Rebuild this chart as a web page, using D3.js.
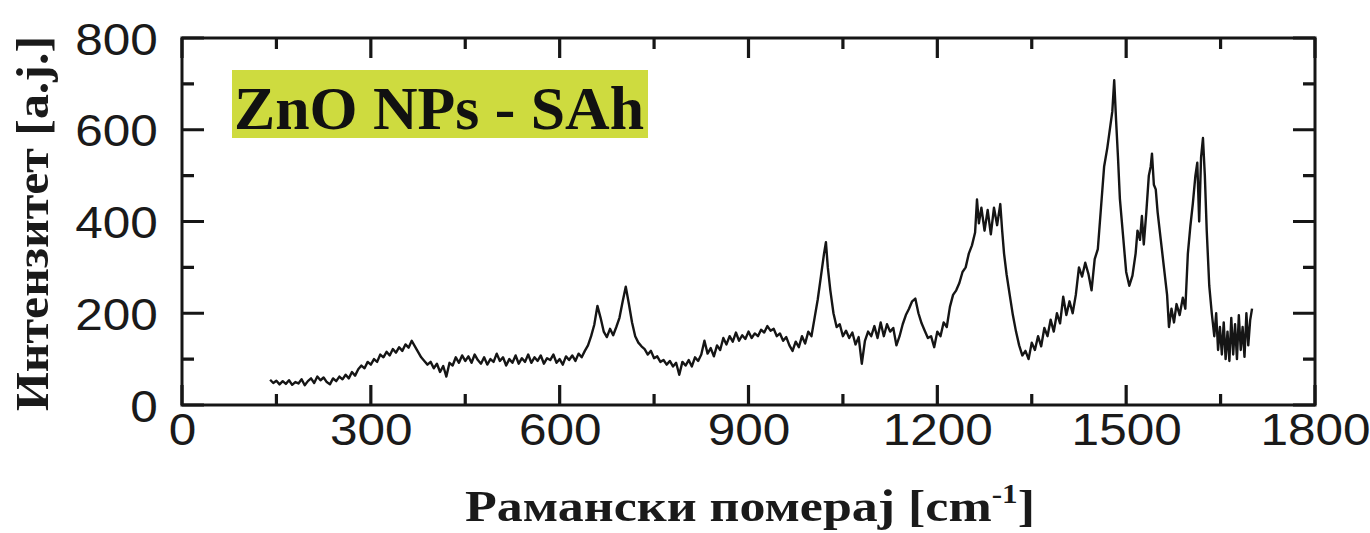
<!DOCTYPE html>
<html>
<head>
<meta charset="utf-8">
<script src="https://cdn.jsdelivr.net/npm/d3@7"></script>
<style>
html,body{margin:0;padding:0;background:#fff;}
svg{display:block;}
</style>
</head>
<body>
<svg id="chart" width="1370" height="533"></svg>
<script>
// ---- data ----
const xTicks = [0, 300, 600, 900, 1200, 1500, 1800];
const xMinorTicks = [150, 450, 750, 1050, 1350, 1650];
const yTicks = [0, 200, 400, 600, 800];
const yMinorTicks = [100, 300, 500, 700];
const xTitle = "Рамански померај [cm";
const xTitleSup = "-1";
const yTitle = "Интензитет [a.j.]";
const label = "ZnO NPs - SAh";

const shift = [
140,145,150,155,160,165,170,175,180,185,190,195,200,205,210,215,220,225,230,235,
240,245,250,255,260,265,270,275,280,285,290,295,300,305,310,315,320,325,330,335,
340,345,350,355,360,365,370,375,380,385,390,395,400,405,410,415,420,425,430,435,
440,445,450,455,460,465,470,475,480,485,490,495,500,505,510,515,520,525,530,535,
540,545,550,555,560,565,570,575,580,585,590,595,600,605,610,615,620,625,630,635,
640,645,650,655,660,665,670,675,680,685,690,695,700,705,710,715,720,725,730,735,
740,745,750,755,760,765,770,775,780,785,790,795,800,805,810,815,820,825,830,835,
840,845,850,855,860,865,870,875,880,885,890,895,900,905,910,915,920,925,930,935,
940,945,950,955,960,965,970,975,980,985,990,995,1000,1005,1010,1015,1020,1023,1026,1030,
1035,1040,1045,1050,1055,1060,1065,1070,1075,1080,1085,1090,1095,1100,1105,1110,1115,1120,1125,1130,
1135,1140,1145,1150,1155,1160,1165,1170,1175,1180,1185,1190,1195,1200,1205,1210,1215,1220,1225,1230,
1235,1240,1245,1250,1255,1260,1263,1266,1270,1275,1280,1285,1290,1295,1300,1303,1306,1310,1315,1320,
1325,1330,1335,1340,1345,1350,1355,1360,1365,1370,1375,1380,1385,1390,1395,1400,1405,1410,1415,1420,
1425,1430,1435,1440,1445,1450,1455,1460,1465,1470,1475,1478,1481,1484,1487,1490,1495,1500,1505,1510,
1515,1518,1522,1525,1528,1532,1536,1539,1541,1544,1547,1550,1555,1560,1565,1568,1572,1576,1580,1585,
1590,1594,1598,1602,1606,1610,1613,1616,1619,1622,1625,1628,1632,1636,1640,1643,1646,1649,1652,1655,
1658,1661,1664,1667,1670,1673,1676,1679,1682,1685,1688,1691,1694,1697,1700
];
const intensity = [
55,48,53,45,52,46,54,44,50,47,56,43,52,58,48,62,54,60,50,45,
58,52,62,56,66,58,72,64,78,86,80,94,88,100,94,110,104,116,108,122,
114,126,118,132,125,140,128,116,104,96,88,94,80,90,72,85,62,92,86,104,
92,108,96,106,92,110,98,90,104,88,100,94,112,96,104,86,100,92,108,90,
102,94,110,92,104,96,108,90,102,98,110,92,100,88,106,98,108,96,112,104,
118,130,150,175,216,190,160,148,166,152,170,190,225,258,220,180,150,136,128,122,
110,118,102,106,94,98,88,96,84,92,66,94,86,98,84,104,96,110,140,112,
124,106,130,120,146,132,150,138,158,140,152,144,160,146,156,150,164,158,172,162,
166,150,156,140,148,130,118,138,126,150,134,160,150,190,230,280,330,355,300,250,
200,170,176,150,162,146,158,132,148,90,140,160,150,172,146,180,150,176,160,168,
130,150,176,196,210,226,232,200,178,162,146,150,126,160,150,180,170,214,240,250,
266,290,300,330,348,376,448,396,430,380,425,372,430,392,438,380,330,285,240,196,
160,130,108,118,100,136,120,150,128,168,150,186,160,200,178,236,196,226,200,240,
300,280,310,286,250,318,340,430,520,560,610,640,708,620,540,450,370,290,260,282,
330,380,360,412,350,420,500,520,548,480,470,420,360,300,240,170,210,180,220,196,
234,210,330,390,440,500,528,400,540,582,500,380,260,200,150,200,120,170,110,180,
100,160,96,190,110,176,100,196,120,170,105,200,130,185,210
];

// ---- layout ----
const svg = d3.select("#chart");
const L = 182, R = 1315, T = 38, B = 405;
const xs = d3.scaleLinear().domain([0, 1800]).range([L, R]);
const ys = d3.scaleLinear().domain([0, 800]).range([B, T]);
const axisColor = "#161616";
const tickFont = "'Liberation Sans', Arial, sans-serif";
const serif = "'Liberation Serif', 'Times New Roman', serif";

// tick marks: one path built from the scales (inward on all four sides)
const tp = d3.path();
xTicks.forEach(d => { tp.moveTo(xs(d), B); tp.lineTo(xs(d), B - 20); tp.moveTo(xs(d), T); tp.lineTo(xs(d), T + 20); });
xMinorTicks.forEach(d => { tp.moveTo(xs(d), B); tp.lineTo(xs(d), B - 11); tp.moveTo(xs(d), T); tp.lineTo(xs(d), T + 11); });
yTicks.forEach(d => { tp.moveTo(L, ys(d)); tp.lineTo(L + 22, ys(d)); tp.moveTo(R, ys(d)); tp.lineTo(R - 22, ys(d)); });
yMinorTicks.forEach(d => { tp.moveTo(L, ys(d)); tp.lineTo(L + 12, ys(d)); tp.moveTo(R, ys(d)); tp.lineTo(R - 12, ys(d)); });
svg.append("path").attr("d", tp.toString())
  .attr("fill", "none").attr("stroke", axisColor).attr("stroke-width", 3.2);

// label box
svg.append("rect").attr("x", 232).attr("y", 70).attr("width", 416).attr("height", 68).attr("fill", "#cedb3f");
svg.append("text").attr("x", 234).attr("y", 129)
  .attr("font-family", serif).attr("font-weight", "bold").attr("font-size", 62)
  .attr("textLength", 410).attr("lengthAdjust", "spacingAndGlyphs")
  .attr("fill", "#111").text(label);

// spectrum line
const pts = shift.map((s, i) => [s, intensity[i]]);
svg.append("path").datum(pts)
  .attr("fill", "none").attr("stroke", "#151515").attr("stroke-width", 2.4)
  .attr("stroke-linejoin", "round")
  .attr("d", d3.line().x(d => xs(d[0])).y(d => ys(d[1])));

// axes (labels)
const gB = svg.append("g").attr("transform", `translate(0,${B})`)
  .call(d3.axisBottom(xs).tickValues(xTicks).tickSize(0).tickPadding(8).tickFormat(d3.format("d")));
gB.select("path.domain").remove();
gB.selectAll("text").attr("font-family", tickFont).attr("font-size", 45).attr("fill", "#1a1a1a")
  .attr("dy", "0.72em").attr("transform", "scale(1.1,1)");

const gL = svg.append("g").attr("transform", `translate(${L},0)`)
  .call(d3.axisLeft(ys).tickValues(yTicks).tickSize(0).tickPadding(22));
gL.select("path.domain").remove();
gL.selectAll("text").attr("font-family", tickFont).attr("font-size", 45).attr("fill", "#1a1a1a")
  .attr("dy", "0.36em").attr("transform", "scale(1.1,1)");

// x title
const xt = svg.append("text").attr("x", 465).attr("y", 521)
  .attr("font-family", serif).attr("font-weight", "bold").attr("font-size", 45).attr("fill", "#1a1a1a")
  .attr("textLength", 570).attr("lengthAdjust", "spacingAndGlyphs");
xt.append("tspan").text(xTitle);
xt.append("tspan").attr("font-size", 27).attr("dy", -18).text(xTitleSup);
xt.append("tspan").attr("dy", 18).text("]");

// y title
svg.append("text").attr("transform", `translate(48,${(T + B) / 2 + 2}) rotate(-90)`)
  .attr("text-anchor", "middle")
  .attr("font-family", serif).attr("font-weight", "bold").attr("font-size", 47).attr("fill", "#1a1a1a")
  .attr("textLength", 375).attr("lengthAdjust", "spacingAndGlyphs")
  .text(yTitle);

// frame
svg.append("rect").attr("x", L).attr("y", T).attr("width", R - L).attr("height", B - T)
  .attr("fill", "none").attr("stroke", axisColor).attr("stroke-width", 3);
</script>
</body>
</html>
